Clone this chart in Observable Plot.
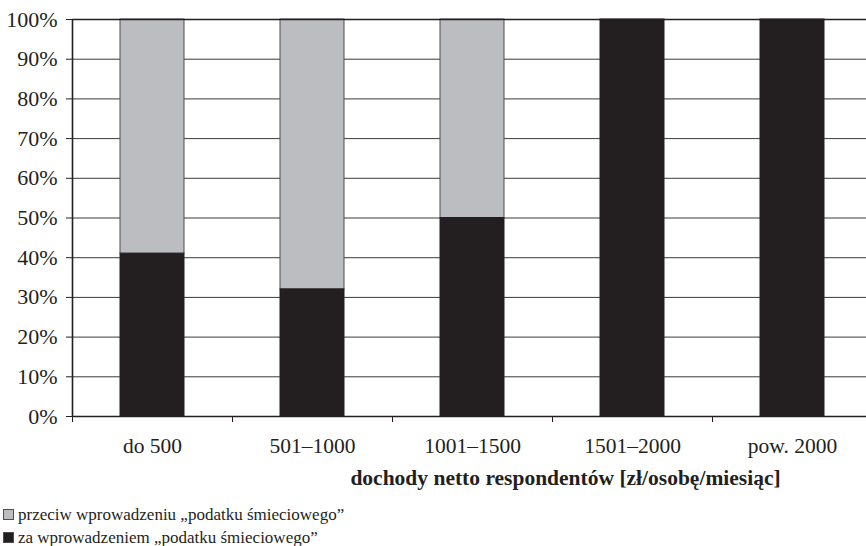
<!DOCTYPE html>
<html>
<head>
<meta charset="utf-8">
<script src="https://cdn.jsdelivr.net/npm/d3@7"></script>
<script src="https://cdn.jsdelivr.net/npm/@observablehq/plot@0.6"></script>
<style>
  html, body { margin: 0; padding: 0; background: #fff; }
  #chart { width: 866px; height: 546px; overflow: hidden; position: relative; font-family: "Liberation Serif", "DejaVu Serif", serif; color: #231f20; }
  .legend { margin-left: 3px; margin-top: 11px; font-size: 17px; line-height: 23px; }
  .legend .item { display: flex; align-items: center; white-space: nowrap; }
  .legend .sw { width: 11px; height: 11px; margin-right: 4px; box-sizing: border-box; }
</style>
</head>
<body>
<div id="chart"></div>
<script>
const categories = ["do 500", "501–1000", "1001–1500", "1501–2000", "pow. 2000"];
const zaValues = [41, 32, 50, 100, 100];
const przeciwValues = [59, 68, 50, 0, 0];
const yTicks = [0, 10, 20, 30, 40, 50, 60, 70, 80, 90, 100];
const seriesNames = ["przeciw wprowadzeniu „podatku śmieciowego”", "za wprowadzeniem „podatku śmieciowego”"];
const seriesColors = ["#bcbdc0", "#231f20"];
const xTitle = "dochody netto respondentów [zł/osobę/miesiąc]";

const rows = categories.map((c, i) => ({cat: c, i, za: zaValues[i], przeciw: przeciwValues[i]}));

const plot = Plot.plot({
  width: 866,
  height: 492,
  marginLeft: 72,
  marginRight: -6,
  marginTop: 19,
  marginBottom: 76,
  style: {fontFamily: "Liberation Serif", fontSize: "21px", color: "#231f20", background: "#fff", overflow: "visible"},
  x: {domain: [0, categories.length], axis: null},
  y: {domain: [0, 100], axis: null},
  marks: [
    Plot.ruleY(yTicks, {y: d => d, stroke: "#3a3a3a", strokeWidth: 1}),
    Plot.rectY(rows.filter(d => d.przeciw > 0), {x1: "i", x2: d => d.i + 1, y1: "za", y2: d => d.za + d.przeciw, insetLeft: 48, insetRight: 48, fill: seriesColors[0], stroke: "#4d4d4f", strokeWidth: 1}),
    Plot.rectY(rows, {x1: "i", x2: d => d.i + 1, y1: 0, y2: "za", insetLeft: 48, insetRight: 48, fill: seriesColors[1], stroke: "#231f20", strokeWidth: 1}),
    Plot.ruleY([100], {stroke: "#231f20", strokeWidth: 1.6}),
    Plot.ruleY([0], {stroke: "#231f20", strokeWidth: 1.6}),
    Plot.ruleX([0], {stroke: "#231f20", strokeWidth: 1.6}),
    Plot.axisY({ticks: yTicks, tickFormat: d => d + "%", tickSize: 6, tickPadding: 9, fontSize: 22, stroke: "#231f20", label: null}),
    Plot.axisX({ticks: d3.range(0, categories.length + 1), tickFormat: () => "", tickSize: 6, label: null, stroke: "#231f20"}),
    Plot.text(rows, {x: d => d.i + 0.5, y: 0, text: "cat", dy: 30, fontSize: 21.5, fill: "#231f20"}),
    Plot.text([xTitle], {frameAnchor: "bottom", dx: 93, dy: 68, fontWeight: "bold", fontSize: 21.5, fill: "#231f20"})
  ]
});

const root = document.getElementById("chart");
root.appendChild(plot);

const legend = document.createElement("div");
legend.className = "legend";
seriesNames.forEach((name, k) => {
  const item = document.createElement("div");
  item.className = "item";
  const sw = document.createElement("span");
  sw.className = "sw";
  sw.style.background = seriesColors[k];
  sw.style.border = "1px solid #4d4d4f";
  const t = document.createElement("span");
  t.textContent = name;
  item.appendChild(sw);
  item.appendChild(t);
  legend.appendChild(item);
});
root.appendChild(legend);
</script>
</body>
</html>
